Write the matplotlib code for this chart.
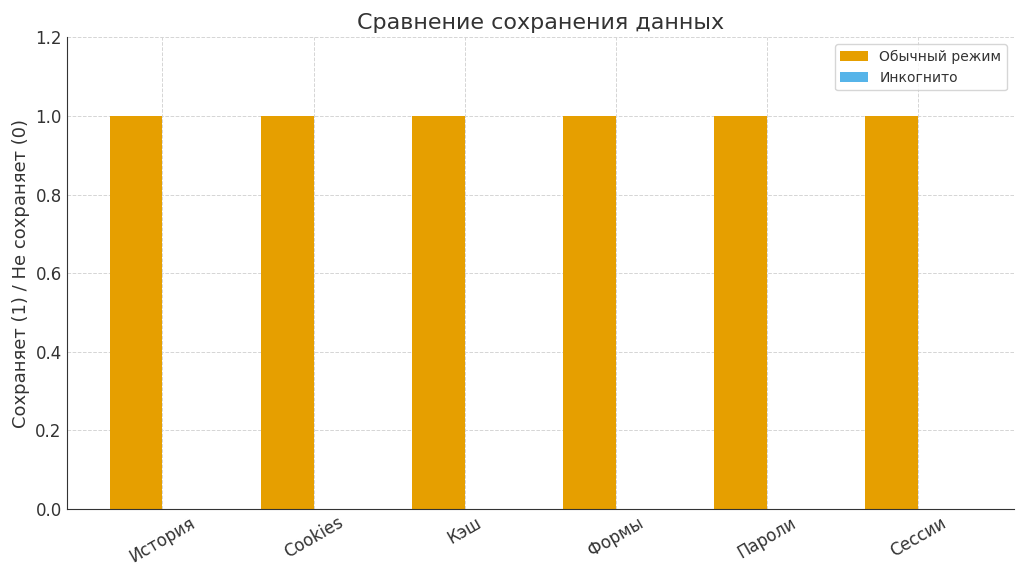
import numpy as np
import matplotlib.pyplot as plt

# категории и значения (1 = сохраняет, 0 = не сохраняет)
categories = ['История', 'Cookies', 'Кэш', 'Формы', 'Пароли', 'Сессии']
normal_mode = [1, 1, 1, 1, 1, 1]
incognito = [0, 0, 0, 0, 0, 0]

x = np.arange(len(categories))
width = 0.35

fig, ax = plt.subplots(figsize=(10.24, 5.75), dpi=100)
ax.bar(x - width / 2, normal_mode, width, label='Обычный режим', color='#E69F00')
ax.bar(x + width / 2, incognito, width, label='Инкогнито', color='#56B4E9')

ax.set_title('Сравнение сохранения данных', fontsize=16, color='#333333')
ax.set_ylabel('Сохраняет (1) / Не сохраняет (0)', fontsize=13, color='#333333')
ax.set_xticks(x)
ax.set_xticklabels(categories, rotation=30, fontsize=12, color='#333333')
ax.set_ylim(0, 1.2)
ax.tick_params(axis='x', length=0)
ax.tick_params(axis='y', labelsize=12, labelcolor='#333333', length=0)
ax.grid(True, linestyle='--', color='#d5d5d5', linewidth=0.7)
ax.set_axisbelow(True)
for s in ['top', 'right']:
    ax.spines[s].set_visible(False)
for s in ['left', 'bottom']:
    ax.spines[s].set_color('#333333')
leg = ax.legend(fontsize=10, loc='upper right')
for t in leg.get_texts():
    t.set_color('#333333')

plt.subplots_adjust(left=0.065, right=0.99, top=0.935, bottom=0.115)
plt.savefig('out.png')
